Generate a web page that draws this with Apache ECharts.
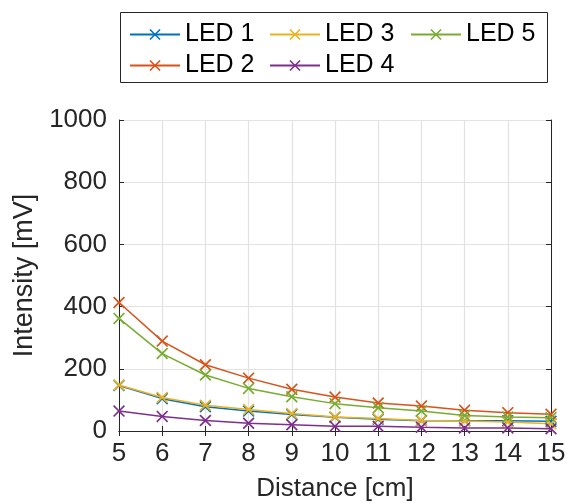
<!DOCTYPE html>
<html><head><meta charset="utf-8">
<script src="https://cdn.jsdelivr.net/npm/echarts@6/dist/echarts.min.js"></script>
<style>html,body{margin:0;padding:0;background:#fff}#c{width:567px;height:503px}</style>
</head><body><div id="c"></div>
<script>
const distances = [5, 6, 7, 8, 9, 10, 11, 12, 13, 14, 15];
const led1 = [146, 104, 78, 64, 53, 44, 38, 33, 33, 33, 31];
const led2 = [413, 289, 213, 170, 134, 109, 90, 80, 67, 59, 54];
const led3 = [148, 108, 83, 69, 56, 45, 40, 34, 32, 29, 23];
const led4 = [64, 47, 34, 25, 20, 15, 15, 12, 10, 10, 7];
const led5 = [362, 249, 180, 137, 110, 88, 75, 64, 50, 45, 43];
const seriesNames = ['LED 1', 'LED 2', 'LED 3', 'LED 4', 'LED 5'];
const seriesColors = ['#0072BD', '#D95319', '#EDB120', '#7E2F8E', '#77AC30'];
const yTicks = [0, 200, 400, 600, 800, 1000];

const FONT = 'Liberation Sans';
const AX = '#262626';
const xMark = 'path://M1,0 L5,4 L9,0 L10,1 L6,5 L10,9 L9,10 L5,6 L1,10 L0,9 L4,5 L0,1 Z';
const allData = [led1, led2, led3, led4, led5];

const chart = echarts.init(document.getElementById('c'), null, {renderer: 'canvas'});
const legendBase = {
  orient: 'vertical', padding: 0, itemWidth: 50, itemHeight: 14, itemGap: 6,
  textStyle: {fontFamily: FONT, fontSize: 25, color: '#000', lineHeight: 22},
  lineStyle: {width: 2},
  top: 22
};
const axisCommon = {
  type: 'value',
  axisLine: {show: true, lineStyle: {color: AX, width: 1}},
  axisTick: {show: true, inside: true, length: 5, lineStyle: {color: AX}},
  axisLabel: {fontFamily: FONT, fontSize: 26, color: AX, formatter: v => String(v)},
  splitLine: {show: true, lineStyle: {color: '#e2e2e2', width: 1.2}}
};
chart.setOption({
  animation: false,
  grid: {left: 119, right: 16, top: 120, bottom: 72, containLabel: false, outerBoundsMode: 'none'},
  legend: [
    Object.assign({}, legendBase, {data: ['LED 1', 'LED 2'], left: 129}),
    Object.assign({}, legendBase, {data: ['LED 3', 'LED 4'], left: 269}),
    Object.assign({}, legendBase, {data: ['LED 5'], left: 410})
  ],
  graphic: [{type: 'rect', shape: {x: 120.5, y: 12.5, width: 427, height: 70},
    style: {fill: 'none', stroke: AX, lineWidth: 1}, z: 100}],
  xAxis: [
    Object.assign({}, axisCommon, {min: 5, max: 15, interval: 1, position: 'bottom',
      axisLabel: Object.assign({}, axisCommon.axisLabel, {margin: 10}),
      name: 'Distance [cm]', nameLocation: 'middle', nameGap: 45,
      nameTextStyle: {fontFamily: FONT, fontSize: 26, color: AX}}),
    Object.assign({}, axisCommon, {min: 5, max: 15, interval: 1, position: 'top',
      axisLabel: {show: false}, splitLine: {show: false}})
  ],
  yAxis: [
    Object.assign({}, axisCommon, {min: yTicks[0], max: yTicks[yTicks.length - 1], interval: 200, position: 'left',
      axisLabel: Object.assign({}, axisCommon.axisLabel, {margin: 12}),
      name: 'Intensity [mV]', nameLocation: 'middle', nameGap: 80,
      nameTextStyle: {fontFamily: FONT, fontSize: 27, color: AX}}),
    Object.assign({}, axisCommon, {min: 0, max: 1000, interval: 200, position: 'right',
      axisLabel: {show: false}, splitLine: {show: false}})
  ],
  series: seriesNames.map((n, i) => ({
    name: n, type: 'line',
    data: distances.map((d, j) => [d, allData[i][j]]),
    symbol: xMark, symbolSize: 12, showAllSymbol: true,
    itemStyle: {color: seriesColors[i]},
    lineStyle: {color: seriesColors[i], width: 1.5},
    z: 2 + i
  }))
});
</script></body></html>
